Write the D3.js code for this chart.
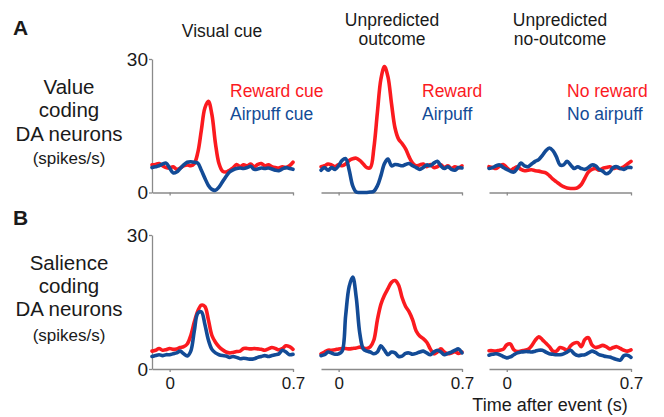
<!DOCTYPE html>
<html><head><meta charset="utf-8">
<script src="https://cdn.jsdelivr.net/npm/d3@7"></script>
<style>body{margin:0;background:#fff}svg{display:block;font-family:"Liberation Sans",Arial,sans-serif}</style>
</head><body>
<svg id="c" width="664" height="417"></svg>
<script>
const times = [-0.10,-0.08,-0.06,-0.04,-0.02,0.00,0.02,0.04,0.06,0.08,0.10,0.12,0.14,0.16,0.18,0.20,0.22,0.24,0.26,0.28,0.30,0.32,0.34,0.36,0.38,0.40,0.42,0.44,0.46,0.48,0.50,0.52,0.54,0.56,0.58,0.60,0.62,0.64,0.66,0.68,0.70];
const xTicks = [0, 0.7];
const xTickLabels = ["0", "0.7"];
const yTicks = [0, 30];
const columnTitles = [["Visual cue"], ["Unpredicted","outcome"], ["Unpredicted","no-outcome"]];
const rowLabels = [["Value","coding","DA neurons"], ["Salience","coding","DA neurons"]];
const rowUnit = "(spikes/s)";
const panelLetters = ["A","B"];
const legendRed = ["Reward cue","Reward","No reward"];
const legendBlue = ["Airpuff cue","Airpuff","No airpuff"];
const xAxisTitle = "Time after event (s)";

// Row A (value coding)
const aCueRed = [6.2,6.3,6.5,6.0,5.6,5.5,5.8,5.2,5.5,6.0,6.2,6.0,6.5,9.0,14.0,19.0,20.5,17.5,11.0,6.5,4.8,4.6,5.0,5.5,6.3,5.8,6.2,6.0,6.4,5.8,6.3,6.5,6.0,6.2,5.8,5.6,5.5,5.8,5.6,6.0,6.8];
const aCueBlue = [5.6,5.8,6.0,6.4,6.6,5.5,4.4,4.6,5.4,6.2,6.8,6.9,6.8,6.6,5.0,3.2,1.6,0.7,0.5,1.2,2.4,3.6,4.6,5.1,5.4,5.5,5.4,5.6,5.9,5.2,5.3,5.5,5.4,5.5,5.3,5.0,4.9,5.3,5.6,5.4,5.2];
const aOutRed = [5.8,6.0,6.4,6.2,5.8,6.3,6.0,6.4,7.2,7.6,7.7,7.2,6.4,5.6,5.6,10.0,18.0,25.5,28.3,26.0,20.0,14.5,12.0,11.0,9.8,8.0,6.6,6.0,6.2,6.4,5.8,6.3,5.6,5.8,6.2,5.6,6.0,5.4,5.8,5.5,6.0];
const aOutBlue = [5.0,5.6,5.0,5.6,5.2,6.0,7.2,7.6,5.0,1.5,0.1,0.0,0.0,0.0,0.1,0.3,1.5,3.8,6.5,7.5,6.0,6.3,6.2,6.0,6.3,6.5,6.0,5.6,5.2,5.6,6.2,6.0,6.6,7.0,6.0,5.4,5.8,5.2,5.0,5.6,5.5];
const aNoRed = [5.8,5.6,5.4,5.9,6.3,5.6,5.0,5.4,5.8,5.2,4.9,5.0,5.1,4.9,4.8,4.6,4.4,3.8,3.0,2.4,1.8,1.3,1.0,0.9,0.9,1.1,1.8,3.2,4.6,5.2,5.4,5.0,5.4,5.6,5.8,5.4,5.6,5.4,5.8,6.4,7.0];
const aNoBlue = [5.4,5.6,6.0,6.2,5.6,5.2,4.8,4.6,5.5,6.6,6.0,5.8,6.4,7.0,7.4,8.3,9.4,10.0,9.4,8.0,6.2,6.2,7.0,6.2,5.4,5.8,5.4,5.2,5.6,6.2,6.0,5.2,4.8,4.2,4.6,5.6,5.8,5.4,5.2,5.6,5.6];
// Row B (salience coding)
const bCueRed = [4.0,4.2,4.6,4.2,4.3,4.6,4.4,4.5,4.8,5.0,5.6,7.5,10.5,13.0,14.3,14.0,11.0,7.5,6.0,5.0,4.3,3.8,3.6,3.7,3.9,4.0,4.6,4.6,4.5,4.6,4.5,4.4,4.2,4.5,4.8,4.6,4.3,4.6,5.2,5.0,4.4];
const bCueBlue = [2.8,3.0,3.2,3.0,3.2,3.2,3.4,3.6,4.0,3.4,2.9,4.0,8.5,12.5,12.8,10.0,6.5,4.4,3.6,3.2,3.0,2.9,2.6,2.8,2.6,2.3,2.4,2.3,2.2,2.3,2.6,2.8,3.0,2.8,3.0,3.2,3.4,4.2,3.8,3.2,3.3];
const bOutRed = [3.4,3.8,4.2,4.2,4.3,4.5,4.6,4.6,4.5,4.6,4.7,4.9,4.7,4.6,5.0,6.5,11.0,14.5,16.5,18.0,19.4,19.8,18.8,16.0,14.0,12.8,11.0,8.5,7.4,6.8,6.0,4.5,3.4,3.8,4.5,3.8,3.4,3.6,3.9,3.5,3.8];
const bOutBlue = [3.0,3.2,3.8,3.6,3.3,3.4,4.0,12.0,18.5,20.6,16.0,8.0,4.5,4.0,3.8,3.4,3.8,5.2,4.2,3.2,3.8,3.6,2.8,2.9,3.5,3.6,3.3,3.5,3.8,4.0,3.6,3.2,3.8,4.2,3.8,3.2,3.5,3.8,4.2,4.5,3.6];
const bNoRed = [4.1,4.1,4.0,4.2,4.4,5.4,5.6,4.3,3.9,4.0,4.2,4.4,5.2,6.4,7.2,6.6,5.8,5.0,4.0,4.0,4.8,4.6,4.2,5.2,5.8,5.9,5.0,6.6,7.0,5.4,4.8,5.0,5.3,5.0,4.5,4.8,5.0,4.6,4.2,4.0,4.3];
const bNoBlue = [3.1,3.3,3.4,3.2,2.8,2.5,2.7,3.2,3.6,3.8,3.9,3.9,3.8,4.0,4.2,4.2,3.8,3.4,3.3,3.2,3.2,3.4,3.8,4.2,3.4,3.0,3.1,3.2,3.6,4.0,3.7,3.2,3.0,2.8,2.7,2.4,2.1,2.0,3.0,3.1,2.6];

const panels = [
  [[aCueRed,aCueBlue],[aOutRed,aOutBlue],[aNoRed,aNoBlue]],
  [[bCueRed,bCueBlue],[bOutRed,bOutBlue],[bNoRed,bNoBlue]]
];

const RED = "#fb1a1f", BLUE = "#134b96", AXIS = "#8a8a8a", TXT = "#1a1a1a";
const FONT = "Liberation Sans, Arial, sans-serif";
const colX = [[152,293],[321,462],[489,631]];
const rowY = [[59,192.5],[235,369]];

const svg = d3.select("#c");

// Panel letters and row labels
panelLetters.forEach((L,i)=>{
  svg.append("text").attr("x",13).attr("y",[35,225][i]).attr("font-size",21).attr("font-weight","bold").attr("fill",TXT).text(L);
});
const rowLabelY = [[94,117,141,164],[270,293,316,341]];
rowLabels.forEach((lines,r)=>{
  lines.forEach((s,k)=>{
    svg.append("text").attr("x",69).attr("y",rowLabelY[r][k]).attr("text-anchor","middle").attr("font-size",20.5).attr("fill",TXT).text(s);
  });
  svg.append("text").attr("x",69).attr("y",rowLabelY[r][3]).attr("text-anchor","middle").attr("font-size",17).attr("fill",TXT).text(rowUnit);
});

// Column titles
const colTitleCx = [222,392,560];
columnTitles.forEach((lines,c)=>{
  const ys = lines.length===1 ? [37] : [26,45];
  lines.forEach((s,k)=>{
    svg.append("text").attr("x",colTitleCx[c]).attr("y",ys[k]).attr("text-anchor","middle").attr("font-size",17.5).attr("fill",TXT).text(s);
  });
});

// Legends (row A)
const legX = [230,422,567];
legX.forEach((lx,c)=>{
  svg.append("text").attr("x",lx).attr("y",97).attr("font-size",17.5).attr("fill",RED).text(legendRed[c]);
  svg.append("text").attr("x",lx).attr("y",119.5).attr("font-size",17.5).attr("fill",BLUE).text(legendBlue[c]);
});

panels.forEach((row,r)=>{
  const y = d3.scaleLinear().domain([0,30]).range([rowY[r][1],rowY[r][0]]);
  row.forEach((series,c)=>{
    const x = d3.scaleLinear().domain([-0.1,0.7]).range(colX[c]);
    const g = svg.append("g");
    const xa = g.append("g").attr("transform",`translate(0,${rowY[r][1]})`)
      .call(d3.axisBottom(x).tickValues(xTicks).tickSize(3).tickSizeOuter(0)
        .tickFormat((d,i)=> r===1 ? xTickLabels[i] : ""));
    xa.select(".domain").attr("stroke",AXIS).attr("stroke-width",1.3);
    xa.selectAll(".tick line").attr("stroke",AXIS).attr("stroke-width",1.3);
    xa.selectAll(".tick text").attr("font-size",17).attr("fill",TXT).attr("font-family",FONT).attr("y",8).attr("dy","0.71em");
    if(c===0){
      const ya = g.append("g").attr("transform",`translate(${colX[c][0]},0)`)
        .call(d3.axisLeft(y).tickValues(yTicks).tickSize(3).tickSizeOuter(0));
      ya.select(".domain").attr("stroke",AXIS).attr("stroke-width",1.3);
      ya.selectAll(".tick line").attr("stroke",AXIS).attr("stroke-width",1.3);
      ya.selectAll(".tick text").attr("font-size",19).attr("fill",TXT).attr("font-family",FONT).attr("x",-4);
    }
    const line = d3.line().x((d,i)=>x(times[i])).y(d=>y(d)).curve(d3.curveCatmullRom.alpha(0.5));
    [[series[0],RED],[series[1],BLUE]].forEach(([vals,col])=>{
      g.append("path").datum(vals).attr("d",line).attr("fill","none").attr("stroke",col)
        .attr("stroke-width",3.6).attr("stroke-linejoin","round").attr("stroke-linecap","round");
    });
  });
});

svg.append("text").attr("x",550).attr("y",411).attr("text-anchor","middle").attr("font-size",18).attr("fill",TXT).text(xAxisTitle);
</script>
</body></html>
